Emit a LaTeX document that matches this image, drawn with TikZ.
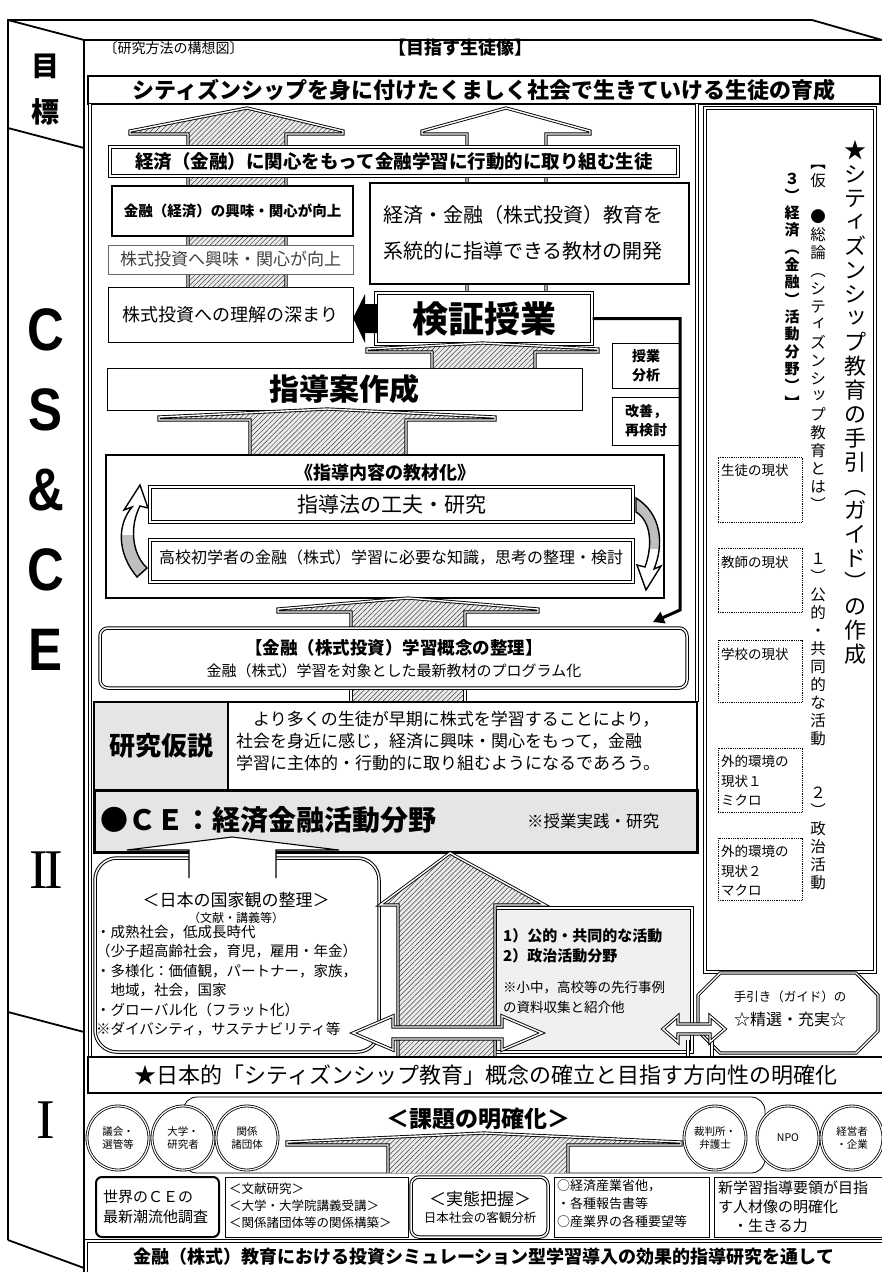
\documentclass[tikz,border=0pt]{standalone}
\usepackage{fontspec}
\usepackage{graphicx}
\setmainfont{Noto Sans CJK JP}
\newfontfamily\lsans{Liberation Sans}
\newfontfamily\lserif{Liberation Serif}
\usetikzlibrary{patterns,patterns.meta,shapes.geometric,fit,arrows.meta}
\newcommand\fz[1]{\fontsize{#1}{#1}\selectfont}
\newcommand\sk[1]{\raisebox{.14em}{\kern.16em#1}}
\makeatletter
\def\vtEnd{\vtEnd}
\def\vt@endtok{\vtEnd}
\newdimen\vtpitch
\newcommand\vtext[2]{\vtpitch=#1\relax\vbox{\offinterlineskip\vt@#2\vtEnd}}
\def\vt@#1{\def\vt@tmp{#1}\ifx\vt@tmp\vt@endtok\else\hbox to 1em{\hss\vbox to \vtpitch{\vss\hbox{\vrule height .88em depth .12em width 0pt#1}\vss}\hss}\expandafter\vt@\fi}
\makeatother
\tikzset{
 thinb/.style={draw, line width=0.8pt, fill=white, inner sep=0},
 thickb/.style={draw, line width=2.2pt, fill=white, inner sep=0},
 dblb/.style={draw, double, double distance=1.5pt, line width=1pt, fill=white, inner sep=0},
 dblline/.style={draw, double, double distance=1.4pt, line width=0.9pt},
 hatched/.style={preaction={fill=black!8}, pattern={Lines[angle=45,distance=3.5pt,line width=0.5pt]}, pattern color=black!75},
 dotb/.style={draw, densely dotted, line width=0.8pt, inner sep=0},
 ell/.style={draw, double, double distance=1.2pt, line width=0.8pt, ellipse, minimum width=62pt, minimum height=64pt, fill=white, inner sep=0, align=center, font=\fontsize{10.5}{13}\selectfont},
}
% box with centred text: [style]{name}{x1}{y1}{x2}{y2}{font}{text}
\newcommand\bx[8][thinb]{%
 \node[#1, fit={(#3,#4)(#5,#6)}] (#2) {};
 \node[font=#7, align=center, inner sep=0] (#2t) at (#2.center) {#8};}
\newcommand\flatarrow[7]{%
 \path[hatched, dblline] (#3,#7) -- (#3,#6) -- (#1,#6) -- (#1,#6-3) -- ({(#1+#2)/2},#5) -- (#2,#6-3) -- (#2,#6) -- (#4,#6) -- (#4,#7);}
\newcommand\leftcurve{(137,577) .. controls (117,553) and (117,525) .. (132,507) -- (124,510) -- (140,485) -- (148,508) -- (140,506) .. controls (130,525) and (131,553) .. (147,568) -- cycle}
\newcommand\rightcurve{(636,498) .. controls (662,514) and (664,545) .. (654,569) -- (661,566) -- (646,590) -- (637,565) -- (645,567) .. controls (653,545) and (651,521) .. (636,512) -- cycle}
\begin{document}
\begin{tikzpicture}[x=1pt,y=-1pt]
\useasboundingbox (0,0) rectangle (882,1272);
\fill[white] (0,0) rectangle (882,1272);

% ---------- book outline / spine
\draw[line width=1.8pt] (8,1240) -- (8,20) -- (812,20) -- (882,40);
\draw[line width=1.8pt] (8,20) -- (84,40);
\draw[line width=2.6pt] (84,40) -- (882,40);
\draw[line width=2.6pt] (84,40) -- (84,1272);
\draw[line width=1.8pt] (8,128) -- (84,148);
\draw[line width=1.8pt] (8,1012) -- (84,1032);
\draw[line width=1.8pt] (8,1240) -- (84,1268);
\node[font=\bfseries\fz{28}] (sp1) at (45,66) {目};
\node[font=\bfseries\fz{28}] (sp2) at (45,112) {標};
\node[font=\lsans\bfseries\fz{60}] (sp3) at (46,330) {\scalebox{0.85}[1]{C}};
\node[font=\lsans\bfseries\fz{60}] (sp4) at (46,410) {\scalebox{0.85}[1]{S}};
\node[font=\lsans\bfseries\fz{60}] (sp5) at (46,490) {\scalebox{0.85}[1]{\&}};
\node[font=\lsans\bfseries\fz{60}] (sp6) at (46,570) {\scalebox{0.85}[1]{C}};
\node[font=\lsans\bfseries\fz{60}] (sp7) at (46,650) {\scalebox{0.85}[1]{E}};
\node[font=\lserif\fz{56}] (sp8) at (46,870) {I\kern-4pt I};
\node[font=\lserif\fz{56}] (sp9) at (46,1120) {I};

% ---------- title rows
\node[font=\fz{14}, anchor=west] (t0) at (100,48) {〔研究方法の構想図〕};
\node[font=\bfseries\fz{18}] (t1) at (460,48) {【目指す生徒像】};
\bx[thickb]{boxA}{88}{76}{880}{104}{\bfseries\fz{22}}{シティズンシップを身に付けたくましく社会で生きていける生徒の育成}

% ---------- frames
\draw[dblline] (90,104) -- (90,1057);
\draw[dblline] (697,104) -- (697,702);
\node[dblb, fit={(705,108)(875,972)}] (panel) {};

% ---------- top arrows
\path[hatched, dblline] (188,292) -- (188,134) -- (130,134) -- (130,131) -- (247,108) -- (343,131) -- (343,134) -- (286,134) -- (286,292);
\path[fill=white, dblline] (467,292) -- (467,134) -- (422,134) -- (422,131) -- (506,108) -- (590,131) -- (590,134) -- (546,134) -- (546,292);

% ---------- upper boxes
\bx[dblb, line width=1.1pt]{b1}{110}{147}{678}{176}{\bfseries\fz{18.5}}{経済（金融）に関心をもって金融学習に行動的に取り組む生徒}
\bx[thickb]{b2}{112}{186}{353}{236}{\bfseries\fz{14.5}}{金融（経済）の興味・関心が向上}
\node[thickb, fit={(370,183)(689,284)}] (b3) {};
\node[anchor=west, align=left, font=\fontsize{20}{36}\selectfont, inner sep=0] (b3t) at (383,233) {経済・金融（株式投資）教育を\\系統的に指導できる教材の開発};
\bx[draw=black!60, line width=0.8pt, fill=white, inner sep=0]{b4}{108}{245}{353}{274}{\color{black!75}\fz{17}}{株式投資へ興味・関心が向上}
\bx[thinb]{b5}{108}{287}{353}{342}{\fz{18}}{株式投資への理解の深まり}
\bx[dblb]{b6}{376}{293}{592}{344}{\bfseries\fz{36}}{検証授業}
\fill (377,304) -- (365,304) -- (365,294) -- (353,318) -- (365,343) -- (365,333) -- (377,333) -- cycle;

% ---------- middle
\flatarrow{367}{598}{432}{535}{343}{352}{368}
\bx[thinb]{b7}{107}{368}{582}{410}{\bfseries\fz{30}}{指導案作成}
\bx[thinb]{b8}{612}{343}{680}{388}{\bfseries\fontsize{14}{19}\selectfont}{授業\\分析}
\bx[thinb]{b9}{612}{397}{680}{445}{\bfseries\fontsize{14}{19}\selectfont}{改善，\\再検討}
\coordinate (k1) at (680,318.5);
\coordinate (k2) at (680,610);
\coordinate (k3) at (653,622);
\draw[line width=3pt, -{Triangle[length=11pt,width=12pt]}] (b6.east) -- (k1) -- (k2) -- (k3);

\flatarrow{159}{495}{250}{406}{409}{420}{455}
\node[draw, line width=2.6pt, fill=white, inner sep=0, fit={(106,455)(664,598)}] (b10) {};
\node[font=\bfseries\fz{18}] (b10t) at (385,473) {《指導内容の教材化》};
\bx[dblb]{b11}{150}{487}{633}{522}{\fz{21}}{指導法の工夫・研究}
\node[dblb, fit={(150,540)(633,582)}] (b12) {};
\node[font=\fz{16}] (b12t) at (391,557) {高校初学者の金融（株式）学習に必要な知識，思考の整理・検討};
\fill[white] \leftcurve;
\begin{scope}\clip (100,535) rectangle (170,600); \fill[black!25] \leftcurve; \end{scope}
\draw[line width=1.4pt] \leftcurve;
\fill[white] \rightcurve;
\begin{scope}\clip (620,480) rectangle (680,548); \fill[black!25] \rightcurve; \end{scope}
\draw[line width=1.4pt] \rightcurve;

\flatarrow{278}{538}{351}{465}{598}{612}{628}
\node[dblb, rounded corners=8pt, fit={(100,628)(687,688)}] (b13) {};
\node[font=\bfseries\fz{17.5}] (b13t) at (394,648) {【金融（株式投資）学習概念の整理】};
\node[font=\fz{15}] (b13s) at (394,671) {金融（株式）学習を対象とした最新教材のプログラム化};
\fill[black!8] (352,690) rectangle (464,702);
\path[pattern={Lines[angle=45,distance=3.5pt,line width=0.5pt]}, pattern color=black!75] (352,690) rectangle (464,702);
\draw[dblline] (351,690) -- (351,702) (465,690) -- (465,702);

% ---------- hypothesis & CE rows
\bx[draw, line width=2.6pt, fill=black!10, inner sep=0]{b14}{94}{702}{228}{790}{\bfseries\fz{26}}{研究仮説}
\node[draw, line width=2.6pt, fill=white, inner sep=0, fit={(228,702)(697,790)}] (b15) {};
\node[anchor=north west, align=left, font=\fontsize{17}{22}\selectfont, inner sep=0] (b15t) at (236,711) {　より多くの生徒が早期に株式を学習することにより，\\社会を身近に感じ，経済に興味・関心をもって，金融\\学習に主体的・行動的に取り組むようになるであろう。};
\node[draw, line width=3pt, fill=black!10, inner sep=0, fit={(94,790)(697,852)}] (b16) {};
\node[anchor=west, font=\bfseries\fz{28}, inner sep=0] (b16t) at (100,820) {●ＣＥ：経済金融活動分野};
\node[anchor=west, font=\fz{16.5}, inner sep=0] (b16s) at (527,821) {※授業実践・研究};

% ---------- lower left area
\node[dblb, rounded corners=22pt, fit={(95,858)(379,1052)}] (b17) {};
\path[fill=white, draw, line width=1.1pt] (189,878) -- (189,850) -- (127,850) -- (232,837) -- (339,850) -- (276,850) -- (276,878);
\node[font=\fz{17}] (b17t) at (236,900) {＜日本の国家観の整理＞};
\node[font=\fz{12}] (b17s) at (236,918) {（文献・講義等）};
\node[anchor=north west, align=left, font=\fontsize{14.5}{19.4}\selectfont, inner sep=0] (b17l) at (96,925) {・成熟社会，低成長時代\\（少子超高齢社会，育児，雇用・年金）\\・多様化：価値観，パートナー，家族，\\　地域，社会，国家\\・グローバル化（フラット化）\\※ダイバシティ，サステナビリティ等};

\node[dblb, fill=black!6, fit={(495,908)(692,1052)}] (b18) {};
\node[anchor=west, font=\bfseries\fz{15}, inner sep=0] (b18a) at (503,936) {1）公的・共同的な活動};
\node[anchor=west, font=\bfseries\fz{15}, inner sep=0] (b18b) at (503,956) {2）政治活動分野};
\node[anchor=west, font=\fz{13.5}, inner sep=0] (b18c) at (503,988) {※小中，高校等の先行事例};
\node[anchor=west, font=\fz{13.5}, inner sep=0] (b18d) at (503,1007) {の資料収集と紹介他};

\path[hatched, dblline] (398,1057) -- (398,905) -- (380,905) -- (450,853) -- (545,905) -- (495,905) -- (495,1057);
\path[fill=white, dblline] (353,1033) -- (393,1016) -- (393,1027) -- (502,1027) -- (502,1016) -- (542,1033) -- (502,1050) -- (502,1039) -- (393,1039) -- (393,1050) -- cycle;

% ---------- right panel content
\node[anchor=north, inner sep=0] (v1) at (855,138) {\fz{22}\vtext{24pt}{★シテ{\sk{ィ}}ズンシ{\sk{ッ}}プ教育の手引︵ガイド︶の作成}};
\node[anchor=north, inner sep=0] (v2) at (818,153) {\fz{15.5}\vtext{18pt}{︻仮　●総論︵シテ{\sk{ィ}}ズンシ{\sk{ッ}}プ教育とは︶　　１︶公的・共同的な活動　　２︶政治活動}};
\node[anchor=north, inner sep=0] (v3) at (792,169.5) {\bfseries\fz{15}\vtext{17.3pt}{３︶経済︵金融︶活動分野︶︼}};
\node[dotb, fit={(718,457)(802,522)}] (d1) {};
\node[anchor=north west, font=\fz{13.5}, inner sep=0] (d1t) at (721,464) {生徒の現状};
\node[dotb, fit={(718,548)(802,612)}] (d2) {};
\node[anchor=north west, font=\fz{13.5}, inner sep=0] (d2t) at (721,556) {教師の現状};
\node[dotb, fit={(718,640)(802,702)}] (d3) {};
\node[anchor=north west, font=\fz{13.5}, inner sep=0] (d3t) at (721,648) {学校の現状};
\node[dotb, fit={(718,748)(802,812)}] (d4) {};
\node[anchor=north west, align=left, font=\fontsize{13.5}{19.5}\selectfont, inner sep=0] (d4t) at (721,755) {外的環境の\\現状１\\ミクロ};
\node[dotb, fit={(718,838)(802,900)}] (d5) {};
\node[anchor=north west, align=left, font=\fontsize{13.5}{19.5}\selectfont, inner sep=0] (d5t) at (721,845) {外的環境の\\現状２\\マクロ};

% octagon
\path[fill=white, dblline] (720,973) -- (856,973) -- (878,995) -- (878,1031) -- (856,1053) -- (720,1053) -- (698,1031) -- (698,995) -- cycle;
\node[font=\fz{12.5}] (o1) at (790,997) {手引き（ガイド）の};
\node[font=\fz{16}] (o2) at (790,1019) {☆精選・充実☆};
\draw[dblline] (688,1040) -- (688,1057) (712,1040) -- (712,1057);
\path[fill=white, dblline] (663,1029) -- (678,1016) -- (678,1024) -- (710,1024) -- (710,1016) -- (725,1029) -- (710,1042) -- (710,1034) -- (678,1034) -- (678,1042) -- cycle;

% ---------- section I
\bx[draw, line width=2.4pt, fill=white, inner sep=0]{b20}{88}{1057}{884}{1093}{\fz{22}}{★日本的「シティズンシップ教育」概念の確立と目指す方向性の明確化}
\node[draw, line width=0.8pt, rounded corners=14pt, inner sep=0, fit={(183,1097)(765,1173)}] (b21) {};
\node[font=\bfseries\fz{23}] (b21t) at (478,1119) {＜課題の明確化＞};
\flatarrow{287}{681}{388}{568}{1133}{1145}{1173}
\node[ell] (c1) at (118,1138) {議会・\\選管等};
\node[ell] (c2) at (183,1138) {大学・\\研究者};
\node[ell] (c3) at (247,1138) {関係\\諸団体};
\node[ell] (c4) at (715,1138) {裁判所・\\弁護士};
\node[ell] (c5) at (788,1138) {NPO};
\node[ell] (c6) at (852,1138) {経営者\\・企業};

\node[draw, line width=2pt, rounded corners=6pt, fill=white, inner sep=0, fit={(96,1177)(219,1237)}] (e1) {};
\node[anchor=west, align=left, font=\fontsize{15}{20}\selectfont, inner sep=0] (e1t) at (103,1207) {世界のＣＥの\\最新潮流他調査};
\node[thinb, fit={(225,1177)(408,1237)}] (e2) {};
\node[anchor=west, align=left, font=\fontsize{12.5}{17}\selectfont, inner sep=0] (e2t) at (229,1206) {＜文献研究＞\\＜大学・大学院講義受講＞\\＜関係諸団体等の関係構築＞};
\node[dblb, rounded corners=8pt, fit={(411,1177)(548,1237)}] (e3) {};
\node[font=\fz{17}] (e3t) at (480,1199) {＜実態把握＞};
\node[font=\fz{12.5}] (e3s) at (480,1218) {日本社会の客観分析};
\node[thinb, fit={(554,1177)(709,1237)}] (e4) {};
\node[anchor=west, align=left, font=\fontsize{13}{18}\selectfont, inner sep=0] (e4t) at (557,1204) {○経済産業省他，\\・各種報告書等\\○産業界の各種要望等};
\node[thinb, fit={(714,1177)(884,1237)}] (e5) {};
\node[anchor=west, align=left, font=\fontsize{15}{19}\selectfont, inner sep=0] (e5t) at (718,1207) {新学習指導要領が目指\\す人材像の明確化\\　・生きる力};

\node[draw, double, double distance=1.5pt, line width=1.1pt, fill=white, inner sep=0, fit={(86,1241)(886,1276)}] (b22) {};
\node[font=\bfseries\fz{18}] (b22t) at (484,1257) {金融（株式）教育における投資シミュレーション型学習導入の効果的指導研究を通して};
\end{tikzpicture}
\end{document}
